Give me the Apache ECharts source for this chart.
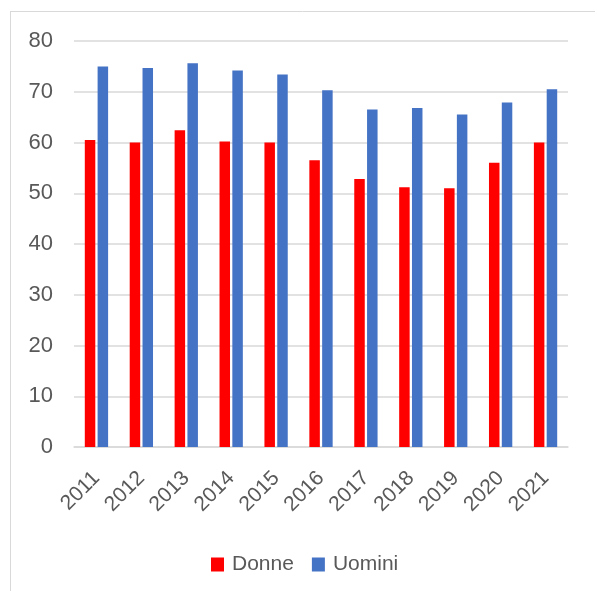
<!DOCTYPE html>
<html>
<head>
<meta charset="utf-8">
<script src="https://cdn.jsdelivr.net/npm/echarts@6/dist/echarts.min.js"></script>
<style>html,body{margin:0;padding:0;background:#fff;}#c{width:597px;height:591px;}</style>
</head>
<body>
<div id="c"></div>
<script>
var years = ['2011','2012','2013','2014','2015','2016','2017','2018','2019','2020','2021'];
var donne = [60.5, 60.0, 62.4, 60.2, 60.0, 56.5, 52.8, 51.2, 51.0, 56.0, 60.0];
var uomini = [75.0, 74.7, 75.6, 74.2, 73.4, 70.3, 66.5, 66.8, 65.5, 67.9, 70.5];
var yTicks = {min: 0, max: 80, interval: 10};

var chart = echarts.init(document.getElementById('c'), null, {renderer: 'canvas'});
var font = 'Liberation Sans';
chart.setOption({
  animation: false,
  backgroundColor: '#ffffff',
  graphic: [
    {type: 'line', shape: {x1: 10.5, y1: 11, x2: 10.5, y2: 591}, style: {stroke: '#d9d9d9', lineWidth: 1}},
    {type: 'line', shape: {x1: 10, y1: 11.5, x2: 595, y2: 11.5}, style: {stroke: '#d9d9d9', lineWidth: 1}}
  ],
  grid: {left: 74, right: 29, top: 41, bottom: 144, containLabel: false},
  legend: {
    left: 206, top: 549,
    itemWidth: 13, itemHeight: 14, itemGap: 18,
    icon: 'rect',
    textStyle: {fontFamily: font, fontSize: 21, color: '#595959', padding: [0, 0, 0, 3]},
    data: ['Donne', 'Uomini']
  },
  xAxis: {
    type: 'category',
    data: years,
    axisLine: {lineStyle: {color: '#d9d9d9', width: 1.5}},
    axisTick: {show: false},
    axisLabel: {rotate: 45, fontFamily: font, fontSize: 21, color: '#595959', margin: 28, interval: 0}
  },
  yAxis: {
    type: 'value',
    min: yTicks.min, max: yTicks.max, interval: yTicks.interval,
    axisLine: {show: false},
    axisTick: {show: false},
    splitLine: {lineStyle: {color: '#d9d9d9', width: 1.5}},
    axisLabel: {fontFamily: font, fontSize: 22, color: '#595959', margin: 21}
  },
  series: [
    {name: 'Donne', type: 'bar', data: donne, barWidth: 10.5, barGap: '22%',
     itemStyle: {color: '#ff0000'}},
    {name: 'Uomini', type: 'bar', data: uomini, barWidth: 10.5,
     itemStyle: {color: '#4472c4'}}
  ]
});
</script>
</body>
</html>
